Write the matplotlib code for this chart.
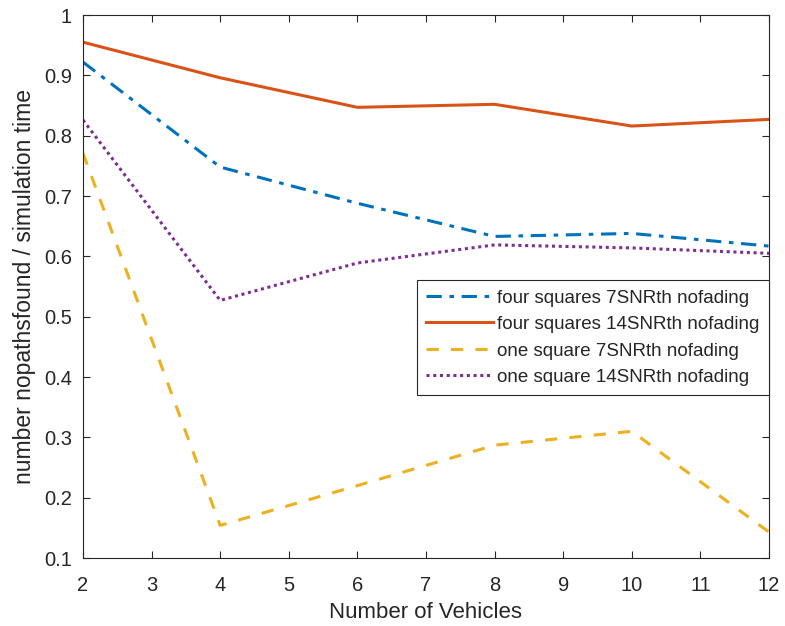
import matplotlib.pyplot as plt
from matplotlib.ticker import FuncFormatter, MultipleLocator

plt.rcParams['font.family'] = ['Liberation Sans', 'DejaVu Sans']

# number of vehicles in each simulation run
vehicles = [2, 4, 6, 8, 10, 12]

# found paths per simulation time for each scenario
four_sq_7snr = [0.922, 0.748, 0.688, 0.633, 0.638, 0.617]
four_sq_14snr = [0.955, 0.896, 0.847, 0.852, 0.816, 0.827]
one_sq_7snr = [0.771, 0.154, 0.220, 0.287, 0.310, 0.143]
one_sq_14snr = [0.826, 0.527, 0.589, 0.619, 0.614, 0.605]

labels = ['four squares 7SNRth nofading', 'four squares 14SNRth nofading',
          'one square 7SNRth nofading', 'one square 14SNRth nofading']

fig = plt.figure(figsize=(7.85, 6.26), dpi=100)
ax = fig.add_axes([0.1057, 0.1086, 0.8739, 0.8674])

ax.plot(vehicles, four_sq_7snr, color='#0072BD', ls=(0, (5, 2.5, 1.5, 2.5)), lw=2.2, label=labels[0])
ax.plot(vehicles, four_sq_14snr, color='#D95319', ls='-', lw=2.2, label=labels[1])
ax.plot(vehicles, one_sq_7snr, color='#EDB120', ls=(0, (4, 4)), lw=2.2, label=labels[2])
ax.plot(vehicles, one_sq_14snr, color='#7E2F8E', ls=(0, (1, 1.2)), lw=2.2, label=labels[3])

ax.set_xlim(2, 12)
ax.set_ylim(0.1, 1)
ax.xaxis.set_major_locator(MultipleLocator(1))
ax.yaxis.set_major_locator(MultipleLocator(0.1))
ax.yaxis.set_major_formatter(FuncFormatter(lambda v, p: f'{v:g}'))

# MATLAB-like box with inward ticks on every side
ax.tick_params(direction='in', top=True, right=True, length=5, width=0.8,
               color='#262626', labelcolor='#262626', labelsize=14.5)
ax.tick_params(axis='x', pad=13)
ax.tick_params(axis='y', pad=8)
for s in ax.spines.values():
    s.set_color('#262626')
    s.set_linewidth(0.8)

ax.set_xlabel('Number of Vehicles', fontsize=16, color='#262626', labelpad=5)
ax.set_ylabel('number nopathsfound / simulation time', fontsize=16.5,
              color='#262626', labelpad=6)

leg = ax.legend(loc='upper right', bbox_to_anchor=(1.0, 0.512), borderaxespad=0,
                fontsize=13.5, handlelength=3.6, handletextpad=0.2, borderpad=0.5,
                labelspacing=0.5, fancybox=False, framealpha=1)
leg.get_frame().set_edgecolor('#262626')
leg.get_frame().set_linewidth(0.8)
for t in leg.get_texts():
    t.set_color('#262626')

fig.savefig('out.png', dpi=100, facecolor='white')
